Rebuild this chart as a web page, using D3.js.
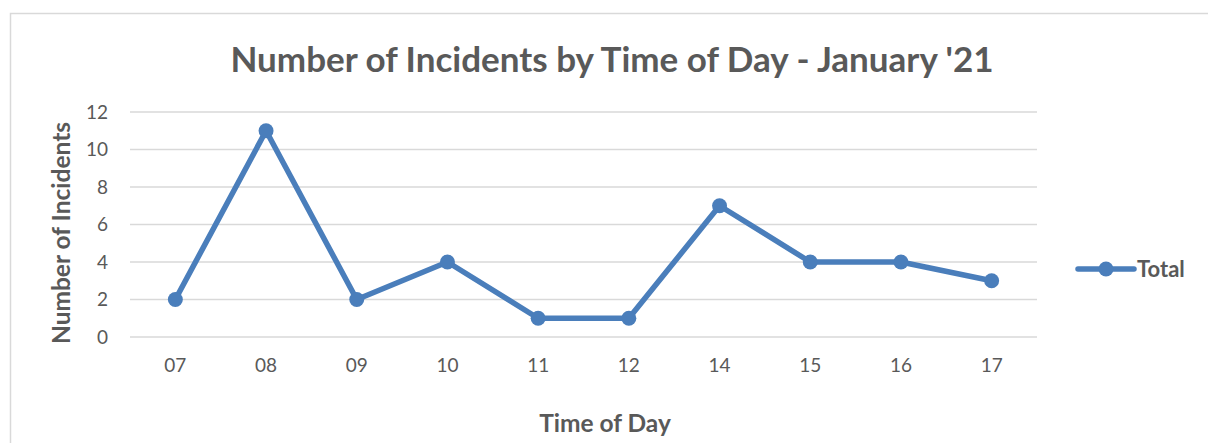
<!DOCTYPE html>
<head>
    <script src="https://d3js.org/d3.v7.min.js"></script>
    <style>
        body { margin: 0; background: #fff; }
        text { font-family: Lato, "Open Sans", sans-serif; fill: #595959; }
    </style>
</head>
<body>
    <script>
        // chart data
        var hours = ["07", "08", "09", "10", "11", "12", "14", "15", "16", "17"];
        var totals = [2, 11, 2, 4, 1, 1, 7, 4, 4, 3];
        var yTicks = [0, 2, 4, 6, 8, 10, 12];

        var W = 1208, H = 443;
        var svg = d3.select("body").append("svg")
            .attr("width", W)
            .attr("height", H);

        // outer chart border (runs off right/bottom)
        svg.append("rect")
            .attr("x", 10.5).attr("y", 13.5)
            .attr("width", 1220).attr("height", 450)
            .attr("fill", "none")
            .attr("stroke", "#d9d9d9")
            .attr("stroke-width", 1.5);

        var plot = { left: 130, right: 1037, top: 112, bottom: 337 };

        var x = d3.scaleBand()
            .domain(hours)
            .range([plot.left, plot.right]);

        var y = d3.scaleLinear()
            .domain([0, 12])
            .range([plot.bottom, plot.top]);

        // gridlines
        svg.append("g").selectAll("line")
            .data(yTicks)
            .enter().append("line")
            .attr("x1", plot.left).attr("x2", plot.right)
            .attr("y1", function (d) { return y(d); })
            .attr("y2", function (d) { return y(d); })
            .attr("stroke", "#d9d9d9")
            .attr("stroke-width", 1.3);

        // y axis labels
        var yAxis = d3.axisLeft(y).tickValues(yTicks).tickSize(0).tickPadding(0);
        var gy = svg.append("g")
            .attr("transform", "translate(108,0)")
            .call(yAxis);
        gy.select(".domain").remove();
        gy.selectAll("text")
            .style("font-size", "19px")
            .style("font-family", "Lato, 'Open Sans', sans-serif")
            .attr("fill", "#595959");

        // x axis labels
        var xAxis = d3.axisBottom(x).tickSize(0).tickPadding(0);
        var gx = svg.append("g")
            .attr("transform", "translate(0," + (plot.bottom + 21) + ")")
            .call(xAxis);
        gx.select(".domain").remove();
        gx.selectAll("text")
            .style("font-size", "19px")
            .style("font-family", "Lato, 'Open Sans', sans-serif")
            .attr("fill", "#595959");

        var cx = function (d, i) { return x(hours[i]) + x.bandwidth() / 2; };

        // the line
        var line = d3.line()
            .x(function (d, i) { return cx(d, i); })
            .y(function (d) { return y(d); });

        svg.append("path")
            .datum(totals)
            .attr("d", line)
            .attr("fill", "none")
            .attr("stroke", "#4a7ebb")
            .attr("stroke-width", 5.5)
            .attr("stroke-linejoin", "round")
            .attr("stroke-linecap", "round");

        svg.append("g").selectAll("circle")
            .data(totals)
            .enter().append("circle")
            .attr("cx", cx)
            .attr("cy", function (d) { return y(d); })
            .attr("r", 7.5)
            .attr("fill", "#4a7ebb");

        // title
        svg.append("text")
            .attr("x", 612).attr("y", 72)
            .attr("text-anchor", "middle")
            .style("font-size", "35px")
            .style("font-weight", "bold")
            .text("Number of Incidents by Time of Day - January '21");

        // axis titles
        svg.append("text")
            .attr("x", 605).attr("y", 432)
            .attr("text-anchor", "middle")
            .style("font-size", "24.5px")
            .style("font-weight", "bold")
            .text("Time of Day");

        svg.append("text")
            .attr("transform", "translate(70,233) rotate(-90)")
            .attr("text-anchor", "middle")
            .style("font-size", "24.5px")
            .style("font-weight", "bold")
            .text("Number of Incidents");

        // legend
        var lg = svg.append("g").attr("transform", "translate(1078,269)");
        lg.append("line")
            .attr("x1", 0).attr("x2", 56)
            .attr("stroke", "#4a7ebb")
            .attr("stroke-width", 5.5)
            .attr("stroke-linecap", "round");
        lg.append("circle")
            .attr("cx", 28).attr("r", 7.5)
            .attr("fill", "#4a7ebb");
        lg.append("text")
            .attr("x", 59).attr("y", 7.5)
            .style("font-size", "22px")
            .style("font-weight", "bold")
            .text("Total");
    </script>
</body>
